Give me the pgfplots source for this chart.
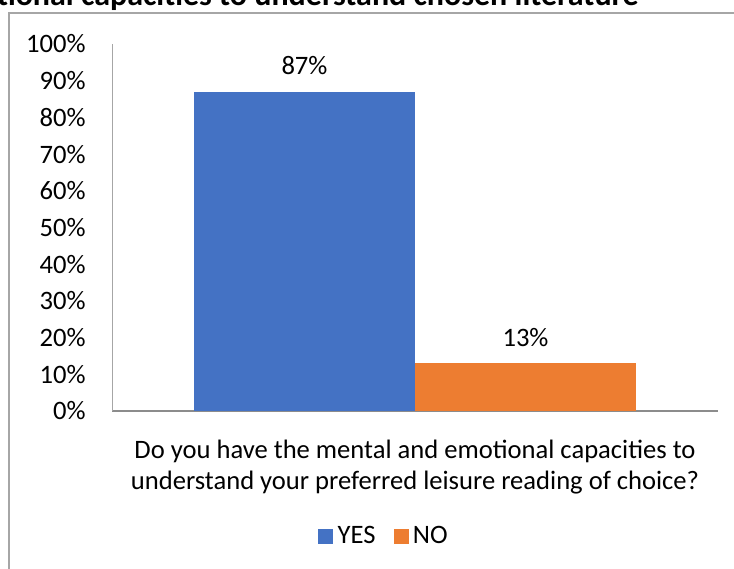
\documentclass[border=0pt]{standalone}
\usepackage{fontspec}
\setmainfont{Carlito}
\usepackage{pgfplots}
\pgfplotsset{compat=1.18}
\definecolor{xlblue}{HTML}{4472C4}
\definecolor{xlorange}{HTML}{ED7D31}
\definecolor{framegray}{HTML}{A6A6A6}
\definecolor{axisgray}{HTML}{8C8C8C}
\begin{document}
\begin{tikzpicture}
\useasboundingbox (0,0) rectangle (367pt,284pt);
\clip (0,0) rectangle (367pt,284pt);
% chart area frame (continues past the cropped edges)
\draw[framegray, line width=0.6pt] (4.5pt,-10pt) -- (4.5pt,277.5pt) -- (380pt,277.5pt);
% title (cropped at the top and left in the reference)
\node[anchor=base east, inner sep=0pt, font=\fontsize{16}{19}\selectfont\bfseries] at (319.5pt,281pt)
  {Mental and emotional capacities to understand chosen literature};
\begin{axis}[
  at={(56pt,78.5pt)}, anchor=south west,
  scale only axis, width=303pt, height=183.5pt,
  ybar=0pt, bar width=110.5pt,
  xmin=-1, xmax=1, ymin=0, ymax=100,
  axis x line*=bottom, axis y line*=left,
  x axis line style={axisgray, line width=0.6pt, -},
  y axis line style={framegray, line width=0.5pt, -},
  xtick={0},
  xticklabels={{Do you have the mental and emotional capacities to\\understand your preferred leisure reading of choice?}},
  xticklabel style={align=center, anchor=north, inner sep=0pt, yshift=-14.5pt, font=\fontsize{13.3}{15.2}\selectfont},
  ytick={0,10,...,100},
  yticklabels={0\%,10\%,20\%,30\%,40\%,50\%,60\%,70\%,80\%,90\%,100\%},
  yticklabel style={anchor=east, inner sep=0pt, xshift=-13pt, font=\fontsize{13.3}{15}\selectfont},
  major tick length=0pt,
  tick style={draw=none},
  point meta=explicit symbolic,
  nodes near coords,
  every node near coord/.append style={anchor=center, yshift=13pt, text=black, font=\fontsize{13.3}{15}\selectfont},
  legend style={at={(135.5pt,-62.5pt)}, anchor=center, draw=none, fill=none,
    legend columns=2, font=\fontsize{13.3}{15}\selectfont,
    /tikz/every even column/.append style={column sep=9pt},
    /tikz/every odd column/.append style={column sep=0pt},
    nodes={inner sep=0pt}},
  legend image code/.code={\fill[#1] (0pt,-3.75pt) rectangle (7.5pt,3.75pt);},
]
\addplot[fill=xlblue, draw=none] coordinates {(0,87) [87\%]};
\addplot[fill=xlorange, draw=none] coordinates {(0,13) [13\%]};
\legend{\,YES,\,NO}
\end{axis}
\end{tikzpicture}
\end{document}
